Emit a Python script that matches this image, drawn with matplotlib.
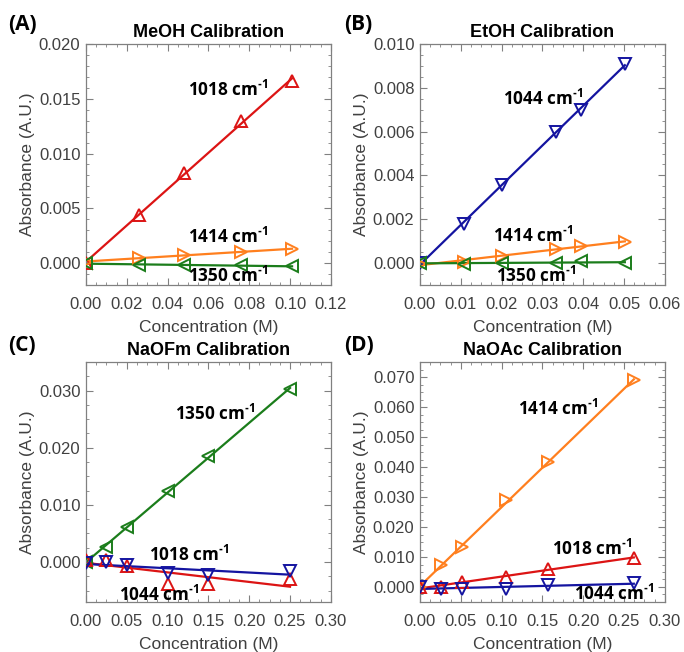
import numpy as np
import matplotlib
matplotlib.use("Agg")
import matplotlib.pyplot as plt
from matplotlib.ticker import AutoMinorLocator, MultipleLocator, FormatStrFormatter

plt.rcParams['font.family'] = ['Liberation Sans', 'DejaVu Sans']
plt.rcParams['mathtext.fontset'] = 'custom'
plt.rcParams['mathtext.rm'] = 'Open Sans'
plt.rcParams['mathtext.bf'] = 'Open Sans:bold'

# ---- data ----
# Panel A: MeOH
a_conc = [0.0, 0.026, 0.048, 0.076, 0.101]
a_1018 = [0.0000, 0.0044, 0.0082, 0.0130, 0.0166]
a_1414 = [0.0001, 0.0005, 0.0007, 0.0010, 0.0013]
a_1350 = [0.0000, -0.0002, -0.0002, -0.0002, -0.0003]

# Panel B: EtOH
b_conc = [0.0, 0.0108, 0.0200, 0.0333, 0.0395, 0.0502]
b_1044 = [0.0000, 0.0018, 0.00355, 0.0060, 0.0070, 0.0091]
b_1414 = [-0.00005, 0.00005, 0.00034, 0.00064, 0.0008, 0.00096]
b_1350 = [0.0000, -0.00003, 0.0000, 0.0000, 0.0001, 0.0000]

# Panel C: NaOFm
c_conc = [0.0, 0.025, 0.05, 0.10, 0.15, 0.25]
c_1350 = [0.0000, 0.0026, 0.0061, 0.0124, 0.0186, 0.0302]
c_blue = [-0.0001, 0.0000, -0.0006, -0.0020, -0.0022, -0.0015]
c_red = [0.0004, 0.0004, -0.0007, -0.0038, -0.0038, -0.0030]

# Panel D: NaOAc
d_conc = [0.0, 0.026, 0.052, 0.105, 0.157, 0.262]
d_1414 = [0.0000, 0.0074, 0.0133, 0.0289, 0.0417, 0.0689]
d_1018 = [0.0000, 0.0000, 0.0017, 0.0033, 0.0061, 0.0098]
d_1044 = [0.0000, -0.0006, -0.0006, -0.0006, 0.0006, 0.0013]

RED = '#dc1414'
ORANGE = '#ff7f1e'
GREEN = '#1b7d1b'
BLUE = '#1414a0'

TICKC = '#404040'
SPINEC = '#808080'

fig = plt.figure(figsize=(6.84, 6.52), dpi=100)

def make_ax(rect, xlim, ylim, xmaj, ymaj, xminor, yminor, title, letter, letter_xy):
    ax = fig.add_axes(rect)
    ax.set_xlim(*xlim)
    ax.set_ylim(*ylim)
    ax.xaxis.set_major_locator(MultipleLocator(xmaj))
    ax.yaxis.set_major_locator(MultipleLocator(ymaj))
    ax.xaxis.set_minor_locator(AutoMinorLocator(xminor))
    ax.yaxis.set_minor_locator(AutoMinorLocator(yminor))
    ax.yaxis.set_major_formatter(FormatStrFormatter('%.3f'))
    ax.xaxis.set_major_formatter(FormatStrFormatter('%.2f'))
    ax.tick_params(which='both', direction='in', top=True, right=True, color=SPINEC,
                   labelcolor=TICKC, labelsize=12)
    ax.tick_params(which='major', length=5, width=0.8)
    ax.tick_params(axis='x', which='major', pad=8.5)
    ax.tick_params(axis='y', which='major', pad=4)
    ax.tick_params(which='minor', length=2.5, width=0.6)
    for s in ax.spines.values():
        s.set_color(SPINEC)
        s.set_linewidth(0.9)
    ax.set_xlabel('Concentration (M)', color=TICKC, fontsize=12.5, labelpad=6)
    ax.set_ylabel('Absorbance (A.U.)', color=TICKC, fontsize=12.5, labelpad=3)
    ax.set_title(title, fontsize=13, fontweight='bold', pad=5)
    fig.text(letter_xy[0], letter_xy[1], letter, fontsize=15, fontweight='bold',
             family='Open Sans', ha='left', va='center')
    return ax

def series(ax, x, y, color, marker):
    x = np.asarray(x); y = np.asarray(y)
    p = np.polyfit(x, y, 1)
    xf = np.array([x.min(), x.max()])
    ax.plot(xf, np.polyval(p, xf), color=color, lw=1.6, zorder=2)
    ax.plot(x, y, linestyle='none', marker=marker, ms=8.5, mfc='none', mec=color,
            mew=1.4, zorder=3)

def label(ax, x, y, wn):
    ax.text(x, y, wn + ' cm$^{\\mathbf{\u20101}}$', fontsize=12.3, fontweight='bold',
            family='Open Sans', ha='left', va='center', zorder=4)

# Panel A
axA = make_ax([0.1257, 0.563, 0.358, 0.3695], (0, 0.12), (-0.002, 0.020), 0.02, 0.005, 4, 5,
              'MeOH Calibration', '(A)', (0.012, 0.963))
series(axA, a_conc, a_1018, RED, '^')
series(axA, a_conc, a_1414, ORANGE, '>')
series(axA, a_conc, a_1350, GREEN, '<')
label(axA, 0.050, 0.0158, '1018')
label(axA, 0.050, 0.0024, '1414')
label(axA, 0.050, -0.00115, '1350')

# Panel B
axB = make_ax([0.614, 0.563, 0.358, 0.3695], (0, 0.06), (-0.001, 0.010), 0.01, 0.002, 4, 4,
              'EtOH Calibration', '(B)', (0.503, 0.963))
series(axB, b_conc, b_1044, BLUE, 'v')
series(axB, b_conc, b_1414, ORANGE, '>')
series(axB, b_conc, b_1350, GREEN, '<')
label(axB, 0.0203, 0.0075, '1044')
label(axB, 0.0180, 0.00122, '1414')
label(axB, 0.0187, -0.0006, '1350')

# Panel C
axC = make_ax([0.1257, 0.0767, 0.358, 0.368], (0, 0.30), (-0.007, 0.035), 0.05, 0.010, 4, 4,
              'NaOFm Calibration', '(C)', (0.012, 0.470))
series(axC, c_conc, c_1350, GREEN, '<')
series(axC, c_conc, c_red, RED, '^')
series(axC, c_conc, c_blue, BLUE, 'v')
label(axC, 0.109, 0.026, '1350')
label(axC, 0.077, 0.0012, '1018')
label(axC, 0.040, -0.0057, '1044')

# Panel D
axD = make_ax([0.614, 0.0767, 0.358, 0.368], (0, 0.30), (-0.005, 0.075), 0.05, 0.010, 4, 4,
              'NaOAc Calibration', '(D)', (0.503, 0.470))
series(axD, d_conc, d_1414, ORANGE, '>')
series(axD, d_conc, d_1018, RED, '^')
series(axD, d_conc, d_1044, BLUE, 'v')
label(axD, 0.120, 0.0594, '1414')
label(axD, 0.162, 0.0126, '1018')
label(axD, 0.189, -0.0022, '1044')

fig.savefig('out.png', dpi=100)
